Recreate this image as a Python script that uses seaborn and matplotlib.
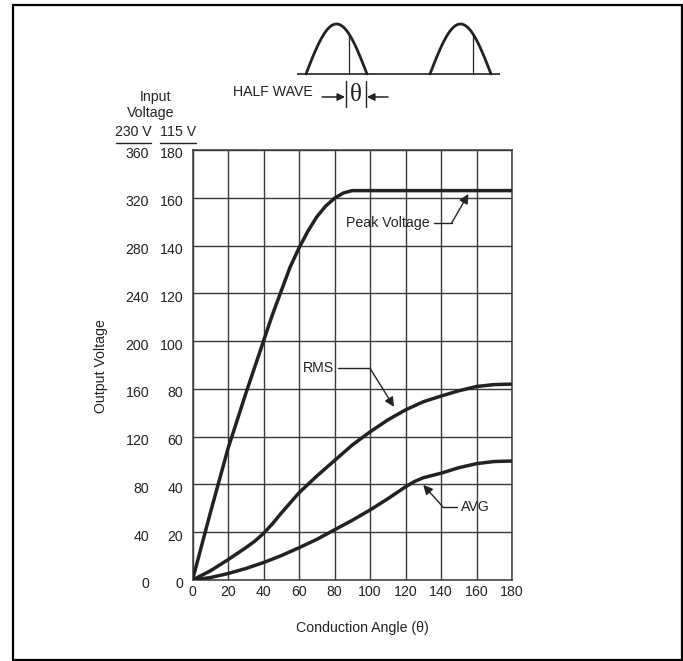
import numpy as np
import pandas as pd
import matplotlib
matplotlib.use("Agg")
import matplotlib.pyplot as plt
import matplotlib.transforms as mtransforms
from matplotlib.patches import Rectangle
import seaborn as sns

# Output voltage (115 V scale) against conduction angle, one list per curve
peak_angle = [0, 10, 20, 30, 40, 45, 50, 55, 60, 65, 70, 75, 80, 85, 90,
              100, 120, 140, 160, 180]
peak = [0, 28, 55, 78, 100, 111, 121, 131, 139, 146, 152, 156.5, 159.8, 162,
        163, 163, 163, 163, 163, 163]

rms_angle = [0, 10, 20, 30, 35, 40, 45, 50, 60, 70, 80, 90, 100, 110, 120,
             130, 140, 150, 160, 170, 180]
rms = [0, 3.8, 8.5, 13.5, 16.2, 19.5, 23.5, 28, 36.5, 43.5, 50, 56.5, 62, 67,
       71.2, 74.6, 77, 79.2, 81, 81.8, 82]

avg_angle = [0, 10, 20, 30, 40, 50, 60, 70, 80, 90, 100, 110, 120, 125, 130,
             140, 150, 160, 170, 180]
avg = [0, 1, 2.7, 4.8, 7.3, 10.2, 13.5, 17, 21, 25, 29.3, 34, 39, 41.2, 42.8,
       44.7, 47, 48.7, 49.6, 49.8]

x_ticks = [0, 20, 40, 60, 80, 100, 120, 140, 160, 180]
y_ticks_115 = [0, 20, 40, 60, 80, 100, 120, 140, 160, 180]
y_ticks_230 = [0, 40, 80, 120, 160, 200, 240, 280, 320, 360]

sns.set_style("white")
plt.rcParams["font.family"] = ["Liberation Sans", "DejaVu Sans"]

INK = "#222222"
GRID = "#3a3a3a"
FS = 10.2

W, H = 683, 661
fig = plt.figure(figsize=(W / 100, H / 100), dpi=100)

# pixel-space overlay for the frame, header and waveform sketch
ov = fig.add_axes([0, 0, 1, 1])
ov.set_xlim(0, W)
ov.set_ylim(H, 0)
ov.axis("off")

ov.add_patch(Rectangle((13, 5), 669, 655, fill=False, lw=1.6, ec="black"))

# half-wave sketch
ov.plot([297, 500], [74, 74], color=INK, lw=1.2, solid_capstyle="butt")
for x0 in (306, 430):
    xs = np.linspace(x0, x0 + 61, 80)
    ys = 74 - 50 * np.sin(np.pi * (xs - x0) / 61)
    ov.plot(xs, ys, color=INK, lw=2.0)
    xv = x0 + 43
    yv = 74 - 50 * np.sin(np.pi * 43 / 61)
    ov.plot([xv, xv], [74, yv], color=INK, lw=0.9)

ov.text(273, 92, "HALF WAVE", ha="center", va="center", fontsize=FS, color=INK)
for xb in (346, 366):
    ov.plot([xb, xb], [81, 107], color=INK, lw=1.0)
ov.text(356, 95, "θ", ha="center", va="center", fontsize=18, color=INK,
        family=["Liberation Serif", "DejaVu Serif"])
ov.annotate("", xy=(345, 97), xytext=(322, 97),
            arrowprops=dict(arrowstyle="-|>", color=INK, lw=1.1,
                            mutation_scale=11, shrinkA=0, shrinkB=0))
ov.annotate("", xy=(367, 97), xytext=(388, 97),
            arrowprops=dict(arrowstyle="-|>", color=INK, lw=1.1,
                            mutation_scale=11, shrinkA=0, shrinkB=0))

# input voltage column headers
ov.text(155.5, 97, "Input", ha="center", va="center", fontsize=FS, color=INK)
ov.text(150.5, 113, "Voltage", ha="center", va="center", fontsize=FS, color=INK)
ov.text(133.5, 132, "230 V", ha="center", va="center", fontsize=FS, color=INK)
ov.text(178, 132, "115 V", ha="center", va="center", fontsize=FS, color=INK)
ov.plot([115.5, 151], [142.7, 142.7], color=INK, lw=1.0)
ov.plot([159.5, 196], [142.7, 142.7], color=INK, lw=1.0)

# main chart
ax = fig.add_axes([192.5 / W, 1 - 580 / H, 319.5 / W, 430 / H])
df = pd.concat([
    pd.DataFrame({"angle": peak_angle, "volts": peak, "curve": "Peak Voltage"}),
    pd.DataFrame({"angle": rms_angle, "volts": rms, "curve": "RMS"}),
    pd.DataFrame({"angle": avg_angle, "volts": avg, "curve": "AVG"}),
])
sns.lineplot(data=df, x="angle", y="volts", units="curve", estimator=None,
             color=INK, lw=2.5, ax=ax, legend=False, zorder=3)
for ln in ax.get_lines():
    ln.set_solid_joinstyle("round")

ax.set_xlim(0, 180)
ax.set_ylim(0, 180)
ax.set_xticks(x_ticks)
ax.set_xticklabels([str(v) for v in x_ticks], fontsize=FS, color=INK)
ax.set_yticks(y_ticks_115)
ax.set_yticklabels([])
ax.tick_params(axis="x", length=0, pad=3.8)
ax.tick_params(axis="y", length=2.4, width=0.9, color=GRID, direction="out")
ax.grid(True, color=GRID, lw=1.0)
for s in ax.spines.values():
    s.set_color(GRID)
    s.set_linewidth(1.1)

ytr = mtransforms.offset_copy(ax.get_yaxis_transform(), fig=fig, x=0, y=-3,
                              units="dots")
for v115, v230 in zip(y_ticks_115, y_ticks_230):
    ax.text(-0.029, v115, str(v115), transform=ytr, ha="right",
            va="center_baseline", fontsize=FS, color=INK)
    ax.text(-0.136, v115, str(v230), transform=ytr, ha="right",
            va="center_baseline", fontsize=FS, color=INK)

ax.set_xlabel("Conduction Angle (θ)", fontsize=FS, color=INK)
ax.xaxis.set_label_coords(0.5305, -0.1116)
ax.xaxis.label.set_va("center")
ax.set_ylabel("Output Voltage", fontsize=FS, color=INK)
ax.yaxis.set_label_coords(-0.287, 0.498)
ax.yaxis.label.set_va("center")

# curve callouts: label, short leader, then arrow onto the curve
callouts = [
    ("Peak Voltage", (110.1, 149.4), (136.1, 146.0), (155.4, 161.6)),
    ("RMS", (70.9, 88.6), (82.1, 100.0), (113.5, 72.5)),
    ("AVG", (159.5, 30.4), (148.8, 141.3), (130.0, 39.8)),
]
for label, (tx, ty), (l0, l1), (hx, hy) in callouts:
    ax.text(tx, ty, label, ha="center", va="center", fontsize=FS, color=INK,
            zorder=5)
    ax.plot([l0, l1], [ty, ty], color=INK, lw=1.0, zorder=4)
    ax.annotate("", xy=(hx, hy), xytext=(l1, ty),
                arrowprops=dict(arrowstyle="-|>", color=INK, lw=1.0,
                                mutation_scale=14, shrinkA=0, shrinkB=0),
                zorder=4)

fig.savefig("out.png", dpi=100)
